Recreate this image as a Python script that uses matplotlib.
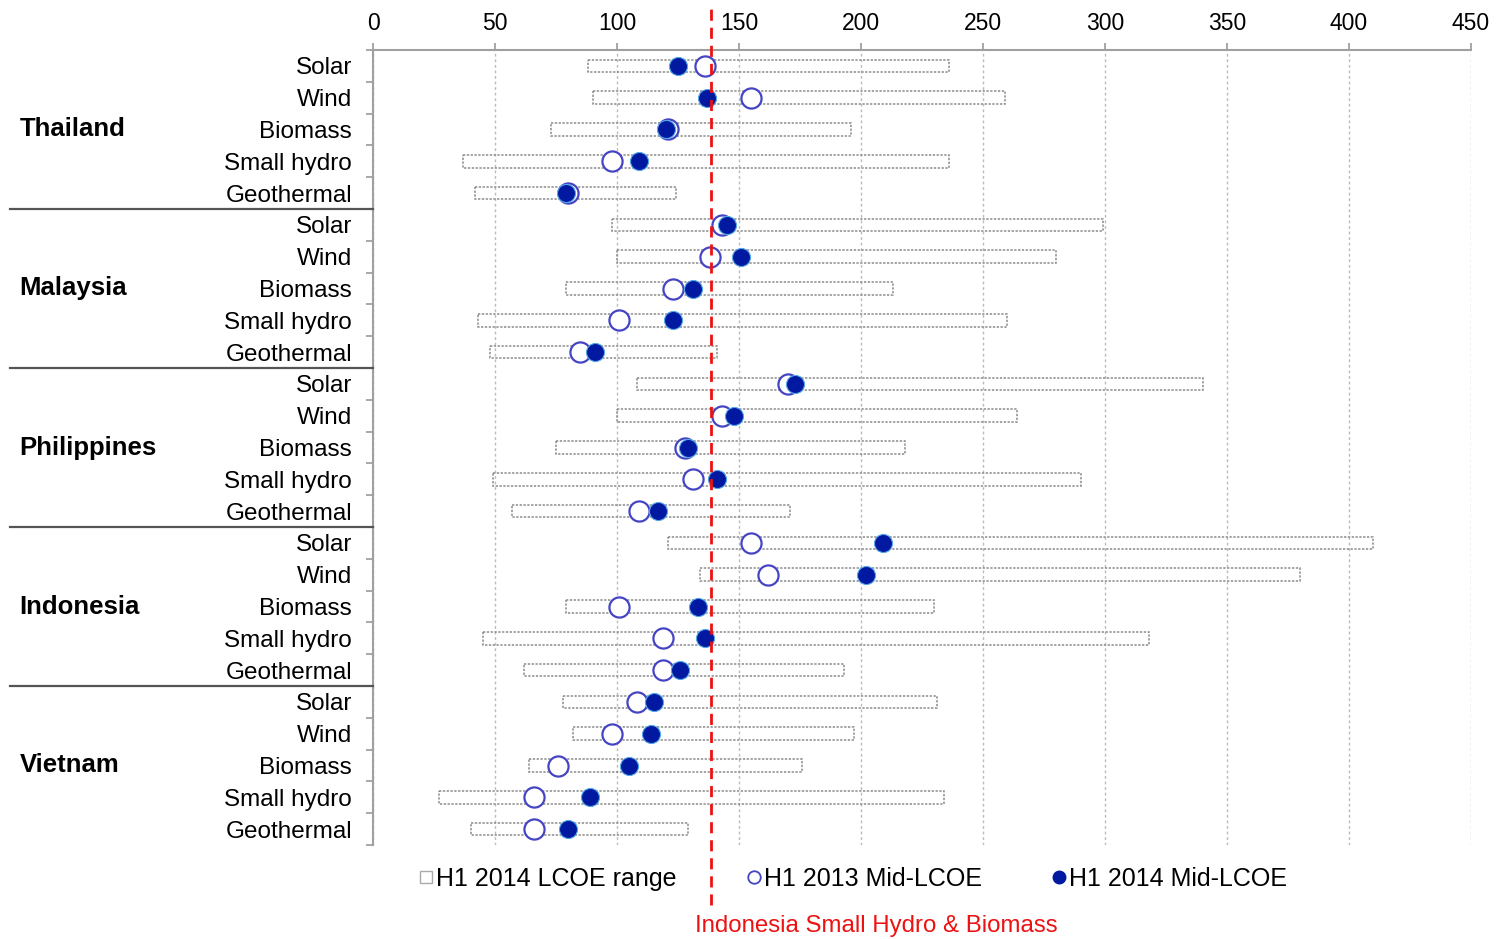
import numpy as np
import matplotlib.pyplot as plt
import matplotlib.transforms as mtransforms
from matplotlib.lines import Line2D

plt.rcParams['font.family'] = ['Liberation Sans', 'DejaVu Sans']

countries = ["Thailand", "Malaysia", "Philippines", "Indonesia", "Vietnam"]
techs = ["Solar", "Wind", "Biomass", "Small hydro", "Geothermal"]

# H1 2014 LCOE range (low / high), per country, per tech in order above
range_lo = [88, 90, 73, 37, 42,
            98, 100, 79, 43, 48,
            108, 100, 75, 49, 57,
            121, 134, 79, 45, 62,
            78, 82, 64, 27, 40]
range_hi = [236, 259, 196, 236, 124,
            299, 280, 213, 260, 141,
            340, 264, 218, 290, 171,
            410, 380, 230, 318, 193,
            231, 197, 176, 234, 129]
mid_2013 = [136, 155, 121, 98, 80,
            143, 138, 123, 101, 85,
            170, 143, 128, 131, 109,
            155, 162, 101, 119, 119,
            108, 98, 76, 66, 66]
mid_2014 = [125, 137, 120, 109, 79,
            145, 151, 131, 123, 91,
            173, 148, 129, 141, 117,
            209, 202, 133, 136, 126,
            115, 114, 105, 89, 80]
indonesia_ref = 138.5  # Indonesia small hydro & biomass marker line

n = len(range_lo)
y = np.arange(n)
labels = techs * len(countries)

fig = plt.figure(figsize=(14.96, 9.39), dpi=100)
ax = fig.add_axes([373 / 1496, 1 - 845 / 939, 1098 / 1496, 795 / 939])

# range boxes
lo = np.array(range_lo)
hi = np.array(range_hi)
ax.barh(y, hi - lo, left=lo, height=0.4, facecolor="none",
        edgecolor="#8c8c8c", linestyle=(0, (1.5, 1)), linewidth=1.1, zorder=2)

ax.plot(mid_2013, y, "o", ms=14.5, mfc="white", mec="#4545c4", mew=1.6,
        ls="none", zorder=3)
ax.plot(mid_2014, y, "o", ms=13, mfc="#0019a0", mec="#55a8e8", mew=0.8,
        ls="none", zorder=4)

ax.axvline(indonesia_ref, ymin=-0.0755, ymax=1.057, color="#ee1111",
           lw=2.0, ls=(0, (4, 2.5)), clip_on=False, zorder=6)

ax.set_xlim(0, 450)
ax.set_ylim(n - 0.5, -0.5)
ax.xaxis.tick_top()
ax.set_xticks(np.arange(0, 451, 50))
ax.tick_params(axis="x", labelsize=16.5, length=5, width=1.2,
               color="#999999", pad=5.5)
ax.grid(axis="x", color="#bbbbbb", ls=(0, (2, 2)), lw=1.0, zorder=0)

ax.set_yticks(y)
ax.set_yticklabels(labels, fontsize=17.5)
ax.set_yticks(np.arange(-0.5, n, 1), minor=True)
ax.tick_params(axis="y", which="major", length=0, pad=15)
ax.tick_params(axis="y", which="minor", length=5, width=1.2, color="#999999")

for s in ["right", "bottom"]:
    ax.spines[s].set_visible(False)
for s in ["top", "left"]:
    ax.spines[s].set_color("#a0a0a0")
    ax.spines[s].set_linewidth(1.5)

trans = mtransforms.blended_transform_factory(ax.transAxes, ax.transData)
for i, c in enumerate(countries):
    ax.text(-0.322, i * 5 + 2, c, transform=trans, fontsize=18.5,
            fontweight="bold", ha="left", va="center")
    if i > 0:
        ax.plot([-0.331, 0], [i * 5 - 0.5] * 2, transform=trans,
                color="#555555", lw=1.6, clip_on=False, zorder=5)

handles = [
    Line2D([], [], marker="s", ls="none", ms=8, mfc="white", mec="#aaaaaa",
           mew=1.0),
    Line2D([], [], marker="o", ls="none", ms=9, mfc="white", mec="#4545c4",
           mew=1.3),
    Line2D([], [], marker="o", ls="none", ms=9, mfc="#0019a0", mec="#0019a0"),
]
fig.legend(handles, ["H1 2014 LCOE range", "H1 2013 Mid-LCOE",
                     "H1 2014 Mid-LCOE"],
           loc="center", bbox_to_anchor=(0.57, 0.064), ncol=3, frameon=False,
           fontsize=18, handlelength=0.6, handletextpad=0.1,
           columnspacing=2.8)

fig.text(876 / 1496, 1 - 926 / 939, "Indonesia Small Hydro & Biomass",
         color="#ee1111", fontsize=17.3, ha="center", va="center")

fig.savefig("out.png", dpi=100)
